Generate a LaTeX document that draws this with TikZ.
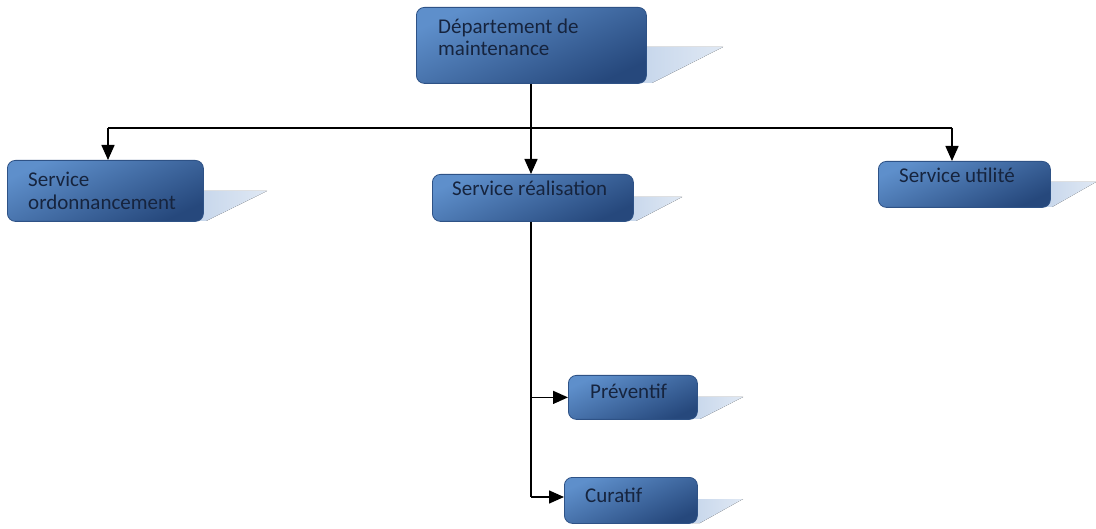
\documentclass[tikz,border=0pt]{standalone}
\usepackage{fontspec}
\setmainfont{Carlito}
\usetikzlibrary{arrows.meta}
\definecolor{boxlight}{HTML}{5E8FCB}
\definecolor{boxdark}{HTML}{26487C}
\definecolor{boxedge}{HTML}{2E5286}
\definecolor{shadowblue}{HTML}{C6D6EB}
\definecolor{labelink}{HTML}{16243E}
\tikzset{
  orgbox/.style={rectangle, rounded corners=8pt, draw=boxedge, line width=0.8pt,
    top color=boxlight, bottom color=boxdark, shading angle=25,
    inner sep=0pt, anchor=north west},
  boxshadow/.style={left color=shadowblue, right color=shadowblue!55!white},
  lbl/.style={inner sep=0pt, anchor=base west, text=labelink,
    font=\fontsize{21}{22}\selectfont},
  link/.style={line width=1.5pt, black},
  arrowlink/.style={link, -{Triangle[length=15pt,width=13pt]}}
}
\begin{document}
\begin{tikzpicture}[x=1pt,y=-1pt]
\useasboundingbox (0,0) rectangle (1096,529);

% perspective shadows behind the boxes
\fill[boxshadow] (640,47) -- (723,47) -- (652,83) -- (640,83) -- cycle;
\fill[boxshadow] (198,191) -- (267,191) -- (206,221) -- (198,221) -- cycle;
\fill[boxshadow] (628,197) -- (682,197) -- (636,221) -- (628,221) -- cycle;
\fill[boxshadow] (1045,182) -- (1096,182) -- (1052,207) -- (1045,207) -- cycle;
\fill[boxshadow] (692,397) -- (743,397) -- (700,419) -- (692,419) -- cycle;
\fill[boxshadow] (692,499) -- (743,499) -- (700,523) -- (692,523) -- cycle;

% boxes
\node[orgbox, minimum width=230pt, minimum height=76pt] (dept) at (416,7) {};
\node[orgbox, minimum width=196pt, minimum height=61pt] (ord) at (7,160) {};
\node[orgbox, minimum width=201pt, minimum height=47pt] (real) at (432,174) {};
\node[orgbox, minimum width=172pt, minimum height=46pt] (util) at (878,161) {};
\node[orgbox, minimum width=129pt, minimum height=44pt] (prev) at (568,375) {};
\node[orgbox, minimum width=133pt, minimum height=46pt] (cur) at (564,477) {};

% labels
\node[lbl] (dept-a) at (438,34) {Département de};
\node[lbl] (dept-b) at (438,56) {maintenance};
\node[lbl] (ord-a) at (28,187) {Service};
\node[lbl] (ord-b) at (28,210) {ordonnancement};
\node[lbl] (real-t) at (452,196) {Service réalisation};
\node[lbl] (util-t) at (899,183) {Service utilité};
\node[lbl] (prev-t) at (590,399) {Préventif};
\node[lbl] (cur-t) at (585,502) {Curatif};

% connectors
\coordinate (bus) at (531,128);
\coordinate (busL) at (108,128);
\coordinate (busR) at (952,128);
\draw[arrowlink] (dept.south -| bus) -- (real.north -| bus);
\draw[link] (busL) -- (busR);
\draw[arrowlink] (busL) -- (ord.north -| busL);
\draw[arrowlink] (busR) -- (util.north -| busR);

\coordinate (trunk) at (531,497);
\draw[link] (real.south -| trunk) -- (trunk);
\draw[arrowlink] (trunk |- prev.west) -- (prev.west);
\draw[arrowlink] (trunk) -- (cur.west |- trunk);
\end{tikzpicture}
\end{document}
